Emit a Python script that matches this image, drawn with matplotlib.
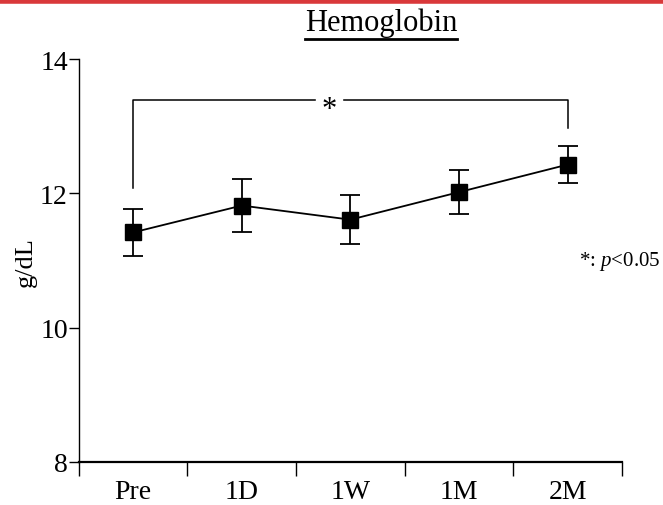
import matplotlib
matplotlib.use("Agg")
import matplotlib.pyplot as plt
from matplotlib.lines import Line2D

plt.rcParams['font.family'] = ['Liberation Serif', 'DejaVu Serif']
plt.rcParams['mathtext.fontset'] = 'custom'
plt.rcParams['mathtext.it'] = 'Liberation Serif:italic'
plt.rcParams['mathtext.rm'] = 'Liberation Serif'

# data
groups = ['Pre', '1D', '1W', '1M', '2M']
means = [11.42, 11.82, 11.61, 12.02, 12.43]
errs = [0.35, 0.39, 0.36, 0.33, 0.28]

fig = plt.figure(figsize=(6.63, 5.06), dpi=100)
ax = fig.add_axes([0.119, 0.085, 0.819, 0.796])

x = list(range(len(groups)))
ax.errorbar(x, means, yerr=errs, color='black', marker='s', markersize=11,
            linewidth=1.3, elinewidth=1.3, capsize=7, capthick=1.3)

# significance bracket Pre vs 2M
ax.plot([0, 0, 4, 4], [12.08, 13.39, 13.39, 12.97], color='black', linewidth=1.1)
ax.text(1.8, 13.25, '*', ha='center', va='center', fontsize=22,
        backgroundcolor='white')

ax.set_xlim(-0.5, 4.5)
ax.set_ylim(8, 14)
ax.set_yticks([8, 10, 12, 14])
ax.tick_params(axis='y', labelsize=20, length=7, width=1, direction='out', pad=1)
ax.set_xticks([-0.5, 0.5, 1.5, 2.5, 3.5, 4.5])
ax.set_xticklabels([])
ax.tick_params(axis='x', which='major', length=10, width=1, direction='out')
ax.set_xticks(x, minor=True)
ax.set_xticklabels(groups, minor=True)
ax.tick_params(axis='x', which='minor', length=0, labelsize=20, pad=12)

for s in ['top', 'right']:
    ax.spines[s].set_visible(False)
ax.spines['left'].set_linewidth(1)
ax.spines['bottom'].set_linewidth(1.6)

ax.set_ylabel('g/dL', fontsize=19, labelpad=2)

fig.text(0.575, 0.955, 'Hemoglobin', ha='center', va='center', fontsize=22)
fig.add_artist(Line2D([0.46, 0.69], [0.921, 0.921], color='black', linewidth=2))
fig.text(0.996, 0.483, r'*: $\it{p}$<0.05', ha='right', va='center', fontsize=15)

# red rule at the very top
fig.add_artist(Line2D([0, 1], [0.997, 0.997], color='#d9383a', linewidth=4))

fig.savefig('out.png', dpi=100)
